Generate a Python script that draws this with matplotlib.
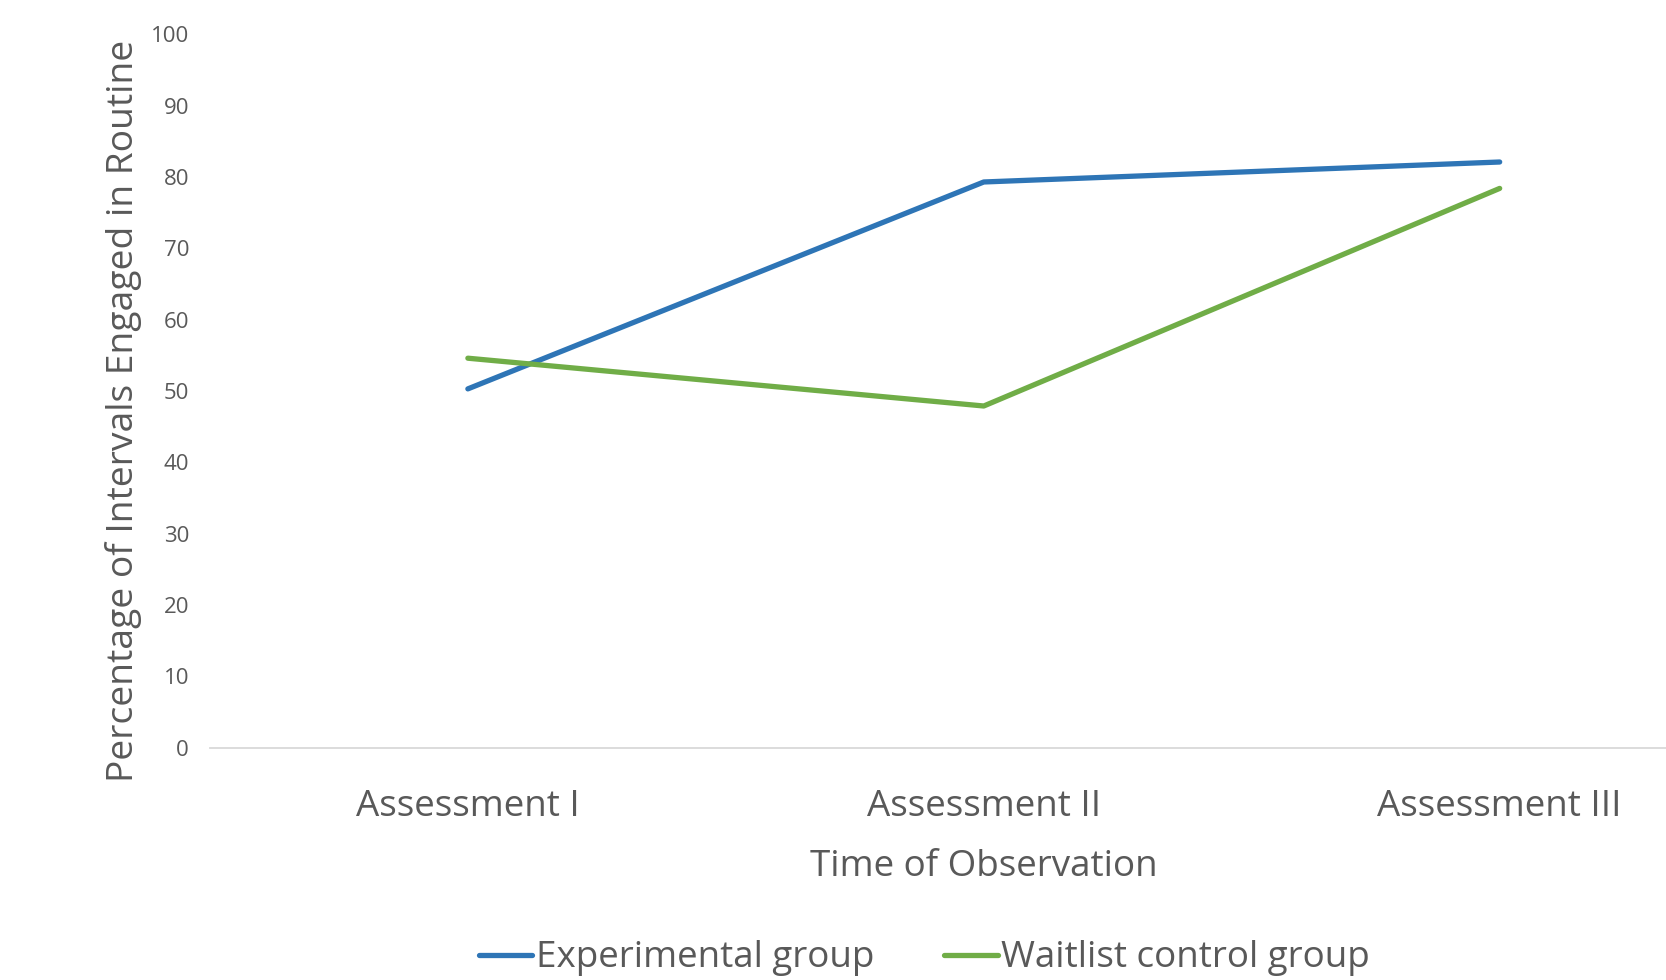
import matplotlib.pyplot as plt

# Data
assessments = ['Assessment I', 'Assessment II', 'Assessment III']
experimental = [50.3, 79.3, 82.1]
waitlist = [54.6, 47.9, 78.4]

txt = '#595959'
plt.rcParams['font.family'] = ['Open Sans', 'DejaVu Sans']

fig = plt.figure(figsize=(16.66, 9.8), dpi=100)
ax = fig.add_axes([0.126, 0.237, 0.929, 0.728])

x = range(len(assessments))
ax.plot(x, experimental, color='#2E75B6', lw=3.8, solid_capstyle='round',
        solid_joinstyle='round', label='Experimental group')
ax.plot(x, waitlist, color='#70AD47', lw=3.8, solid_capstyle='round',
        solid_joinstyle='round', label='Waitlist control group')

ax.set_xlim(-0.5, 2.5)
ax.set_ylim(0, 100)
ax.set_yticks(range(0, 101, 10))
ax.set_xticks(list(x))
ax.set_xticklabels(assessments, fontsize=26.5, color=txt)
ax.tick_params(axis='y', labelsize=16, colors=txt, length=0, pad=15)
ax.tick_params(axis='x', length=0, pad=30)

for s in ['top', 'right', 'left']:
    ax.spines[s].set_visible(False)
ax.spines['bottom'].set_color('#D9D9D9')
ax.spines['bottom'].set_linewidth(1.3)

ax.set_xlabel('Time of Observation', fontsize=26.5, color=txt)
ax.set_ylabel('Percentage of Intervals Engaged in Routine', fontsize=26.8,
              color=txt)
ax.yaxis.set_label_coords(-0.044, 0.472)
ax.xaxis.set_label_coords(0.5, -0.142)

leg = fig.legend(loc='center', bbox_to_anchor=(0.555, 0.022), ncol=2,
                 frameon=False, fontsize=26.5, handlelength=1.45,
                 handletextpad=0.1, columnspacing=1.9)
for t in leg.get_texts():
    t.set_color(txt)

fig.savefig('out.png', dpi=100)
